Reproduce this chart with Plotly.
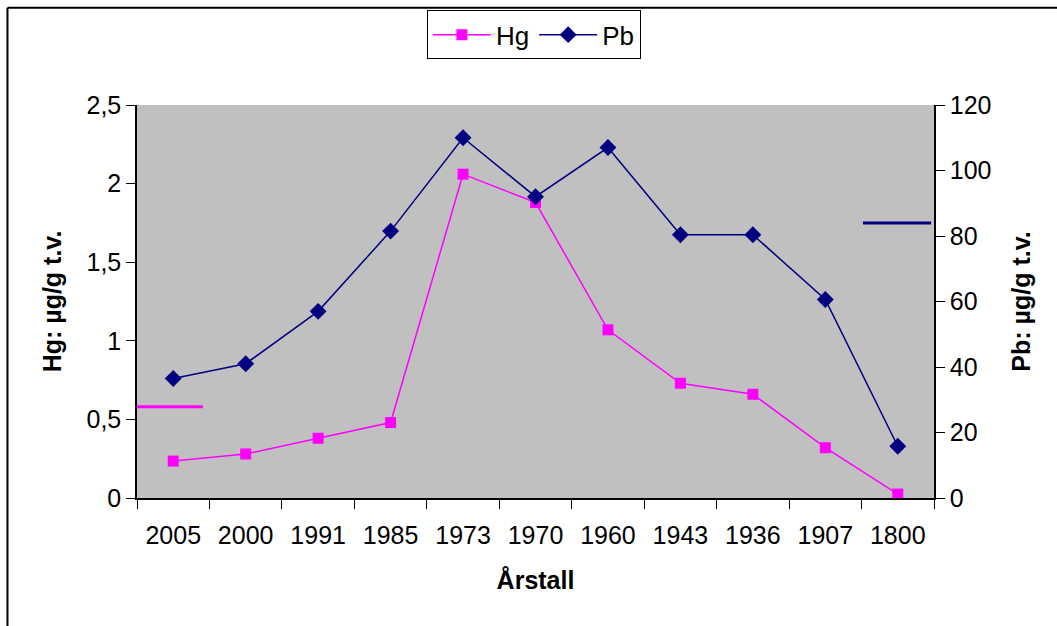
import plotly.graph_objects as go

# data
years = ["2005", "2000", "1991", "1985", "1973", "1970", "1960", "1943", "1936", "1907", "1800"]
hg = [0.235, 0.28, 0.38, 0.48, 2.06, 1.88, 1.07, 0.73, 0.66, 0.32, 0.025]
pb = [36.5, 41, 57, 81.5, 110, 92, 107, 80.4, 80.4, 60.6, 15.8]

# reference levels drawn as short lines at the chart edges
hg_limit = 0.58
pb_limit = 84

HG_COLOR = "#FF00FF"
PB_COLOR = "#000080"
FONT = "Liberation Sans, Arial, sans-serif"

x = list(range(len(years)))

fig = go.Figure()

fig.add_trace(go.Scatter(
    x=x, y=hg, name="Hg", mode="lines+markers",
    line=dict(color=HG_COLOR, width=1.5),
    marker=dict(symbol="square", size=11, color=HG_COLOR),
))
fig.add_trace(go.Scatter(
    x=x, y=pb, name="Pb", mode="lines+markers", yaxis="y2",
    line=dict(color=PB_COLOR, width=1.5),
    marker=dict(symbol="diamond", size=13, color=PB_COLOR),
))

# short limit lines
fig.add_shape(type="line", xref="x", yref="y", x0=-0.5, x1=0.41,
              y0=hg_limit, y1=hg_limit, line=dict(color=HG_COLOR, width=3), layer="above")
fig.add_shape(type="line", xref="x", yref="y2", x0=9.52, x1=10.46,
              y0=pb_limit, y1=pb_limit, line=dict(color=PB_COLOR, width=3), layer="above")

# outer frame (top and left edges visible)
fig.add_shape(type="line", xref="paper", yref="paper", x0=-0.1625, x1=1.16,
              y0=1.2475, y1=1.2475, line=dict(color="black", width=2))
fig.add_shape(type="line", xref="paper", yref="paper", x0=-0.1625, x1=-0.1625,
              y0=1.2475, y1=-0.33, line=dict(color="black", width=2))

axis_common = dict(
    showgrid=False, zeroline=False, showline=True, linecolor="black", linewidth=1.5,
    ticks="outside", ticklen=9, tickcolor="black", automargin=False,
    tickfont=dict(family=FONT, size=25, color="black"),
)
title_font = dict(family=FONT, size=25, color="black")

fig.update_layout(
    width=1057, height=626,
    margin=dict(l=137, r=123, t=104, b=128),
    paper_bgcolor="white", plot_bgcolor="#C0C0C0",
    separators=", ",
    font=dict(family=FONT, color="black"),
    xaxis=dict(
        range=[-0.5, 10.5], tickmode="array", tickvals=x, ticktext=years,
        showgrid=False, zeroline=False, showline=True, linecolor="black", linewidth=1.5,
        ticks="", tickfont=dict(family=FONT, size=25, color="black"),
        ticklabelstandoff=14, automargin=False,
        minor=dict(tickmode="linear", tick0=-0.5, dtick=1, ticks="outside",
                   ticklen=9, tickcolor="black", showgrid=False),
        title=dict(text="<b>Årstall</b>", font=title_font, standoff=24),
    ),
    yaxis=dict(
        range=[0, 2.5], dtick=0.5, tickformat=".1~f",
        title=dict(text="<b>Hg: µg/g t.v.</b>", font=title_font, standoff=18),
        **axis_common,
    ),
    yaxis2=dict(
        range=[0, 120], dtick=20, overlaying="y", side="right",
        title=dict(text="<b>Pb: µg/g t.v.</b>", font=title_font, standoff=22),
        **axis_common,
    ),
    legend=dict(
        orientation="h", x=0.498, xanchor="center", y=1.238, yanchor="top",
        bgcolor="white", bordercolor="black", borderwidth=1,
        font=dict(family=FONT, size=26), itemwidth=58,
    ),
)

# drop the default page margin so the figure sits at the window's corner
fig.write_html(
    "out.html",
    config={"displayModeBar": False},
    post_script="document.body.style.margin = '0';",
)
